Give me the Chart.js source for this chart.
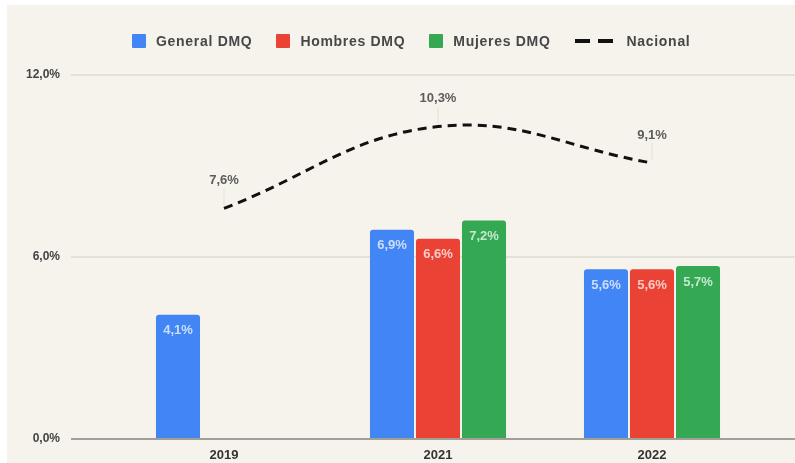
<!DOCTYPE html>
<html>
<head>
<meta charset="utf-8">
<script src="https://cdn.jsdelivr.net/npm/chart.js@4.4.1/dist/chart.umd.min.js"></script>
<style>
body { margin: 0; background: #fff; width: 795px; height: 463px; overflow: hidden; font-family: "Liberation Sans", Arial, sans-serif; }
#wrap { position: absolute; left: 7px; top: 5px; width: 788px; height: 458px; background: #f6f3ec; }
#legend { position: absolute; left: 125px; top: 28px; height: 16px; display: flex; align-items: center; font-weight: bold; font-size: 14px; color: #474747; letter-spacing: 0.7px; z-index: 2; }
.item { display: flex; align-items: center; margin-right: 24px; }
.box { width: 14px; height: 14px; margin-right: 10px; border-radius: 1px; }
.dash { display: flex; margin-right: 14px; }
.dash span { width: 15px; height: 4px; background: #111; }
.dash span + span { margin-left: 8px; }
#chartBox { position: absolute; left: 0; top: 0; width: 788px; height: 458px; }
</style>
</head>
<body>
<div id="wrap">
  <div id="legend"></div>
  <div id="chartBox"><canvas id="chart"></canvas></div>
</div>
<script>
const years = ['2019', '2021', '2022'];
const generalDMQ = [4.1, 6.9, 5.6];
const hombresDMQ = [null, 6.6, 5.6];
const mujeresDMQ = [null, 7.2, 5.7];
const nacional = [7.6, 10.3, 9.1];
const seriesNames = ['General DMQ', 'Hombres DMQ', 'Mujeres DMQ', 'Nacional'];
const seriesColors = ['#4285f4', '#ea4335', '#34a853', '#111111'];
const yTicks = [0, 6, 12];

const FONT = '"Liberation Sans", Arial, sans-serif';

function fmt(v) {
    return v.toFixed(1).replace('.', ',') + '%';
}

// html legend, the line item needs a dashed marker
const legendEl = document.getElementById('legend');
seriesNames.forEach((name, i) => {
    const item = document.createElement('div');
    item.className = 'item';
    if (i === 3) {
        item.innerHTML = '<div class="dash"><span></span><span></span></div>';
    } else {
        item.innerHTML = '<div class="box" style="background:' + seriesColors[i] + '"></div>';
    }
    item.appendChild(document.createTextNode(name));
    legendEl.appendChild(item);
});

const gridLines = {
    id: 'gridLines',
    beforeDatasetsDraw(chart) {
        const { ctx } = chart;
        const y = chart.scales.y;
        ctx.save();
        yTicks.forEach(v => {
            if (v === 0) return;
            const py = y.getPixelForValue(v);
            ctx.beginPath();
            ctx.lineWidth = 2;
            ctx.strokeStyle = '#e4e1da';
            ctx.moveTo(64, py);
            ctx.lineTo(chart.width, py);
            ctx.stroke();
        });
        ctx.restore();
    },
    afterDatasetsDraw(chart) {
        const { ctx } = chart;
        const py = chart.scales.y.getPixelForValue(0);
        ctx.save();
        ctx.beginPath();
        ctx.lineWidth = 2;
        ctx.strokeStyle = '#a19f9a';
        ctx.moveTo(64, py);
        ctx.lineTo(chart.width, py);
        ctx.stroke();
        ctx.restore();
    }
};

const valueLabels = {
    id: 'valueLabels',
    afterDraw(chart) {
        const { ctx } = chart;
        ctx.save();
        ctx.textAlign = 'center';
        ctx.textBaseline = 'middle';
        chart.data.datasets.forEach((ds, i) => {
            const meta = chart.getDatasetMeta(i);
            meta.data.forEach((el, j) => {
                const v = ds.data[j];
                if (v == null) return;
                if (ds.type === 'line') {
                    ctx.strokeStyle = 'rgba(0,0,0,0.07)';
                    ctx.lineWidth = 1;
                    ctx.beginPath();
                    ctx.moveTo(el.x, el.y - 20);
                    ctx.lineTo(el.x, el.y - 3);
                    ctx.stroke();
                    ctx.font = 'bold 13px ' + FONT;
                    ctx.fillStyle = '#5c5c5c';
                    ctx.fillText(fmt(v), el.x, el.y - 28);
                } else {
                    ctx.font = 'bold 13px ' + FONT;
                    ctx.fillStyle = 'rgba(255,255,255,0.72)';
                    ctx.fillText(fmt(v), el.x, el.y + 16);
                }
            });
        });
        ctx.restore();
    }
};

const barOpts = {
    type: 'bar',
    categoryPercentage: 0.645,
    barPercentage: 0.957,
    borderRadius: 3,
    borderSkipped: 'start',
    order: 1
};

const myChart = new Chart(document.getElementById('chart'), {
    data: {
        labels: years,
        datasets: [
            { ...barOpts, label: seriesNames[0], data: generalDMQ, backgroundColor: seriesColors[0] },
            { ...barOpts, label: seriesNames[1], data: hombresDMQ, backgroundColor: seriesColors[1] },
            { ...barOpts, label: seriesNames[2], data: mujeresDMQ, backgroundColor: seriesColors[2] },
            {
                type: 'line',
                label: seriesNames[3],
                data: nacional,
                borderColor: seriesColors[3],
                borderWidth: 3,
                borderDash: [9, 6],
                tension: 0.4,
                pointRadius: 0,
                fill: false,
                order: 0
            }
        ]
    },
    options: {
        responsive: true,
        maintainAspectRatio: false,
        animation: false,
        layout: { padding: { left: 0, right: 36, top: 70, bottom: 0 } },
        plugins: {
            legend: { display: false },
            tooltip: { enabled: false }
        },
        scales: {
            x: {
                grid: { display: false, drawTicks: false },
                border: { display: false },
                ticks: { padding: 9, color: '#333', font: { family: FONT, size: 13, weight: 'bold' } },
                afterFit: (scale) => { scale.height = 24; }
            },
            y: {
                min: 0,
                max: 12,
                grid: { display: false, drawTicks: false },
                border: { display: false },
                afterBuildTicks: (scale) => { scale.ticks = yTicks.map(v => ({ value: v })); },
                ticks: {
                    padding: 57,
                    color: '#444',
                    font: { family: FONT, size: 12, weight: 'bold' },
                    callback: (v) => fmt(v)
                },
                // the big tick padding would otherwise also pad the chart area top and bottom
                afterFit: (scale) => {
                    scale.width = 110;
                    scale.paddingTop = 0;
                    scale.paddingBottom = 0;
                }
            }
        }
    },
    plugins: [gridLines, valueLabels]
});
</script>
</body>
</html>
